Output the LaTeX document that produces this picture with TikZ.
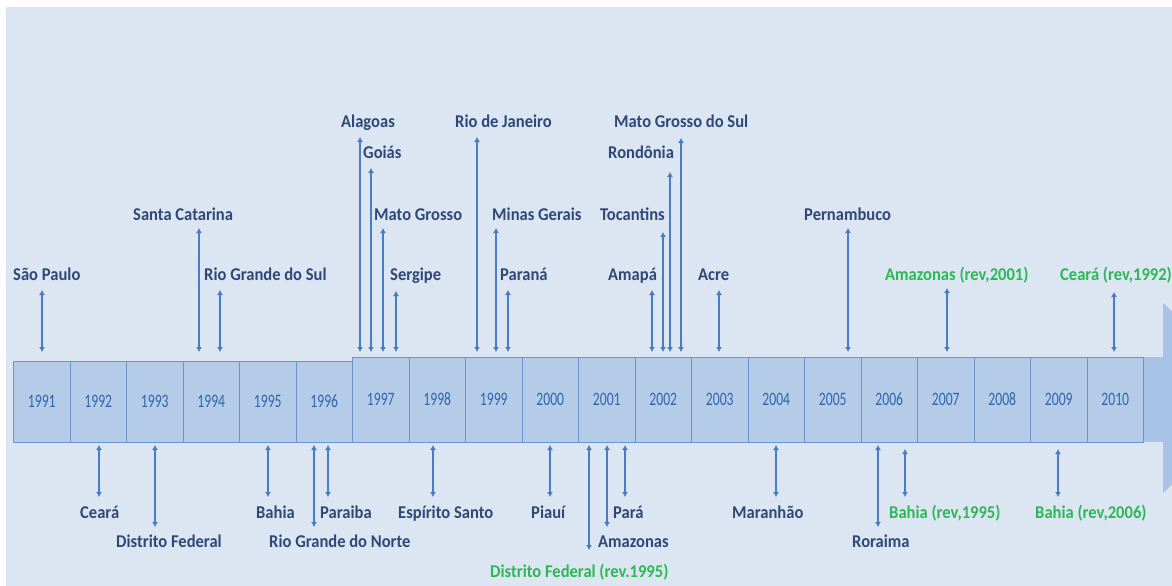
\documentclass[tikz,border=0pt]{standalone}
\usepackage{fontspec}
\setmainfont{Carlito}
\newfontfamily\labfont[FakeStretch=0.92]{Carlito}
\newfontfamily\yearfont[FakeStretch=0.72]{Carlito}
\usetikzlibrary{arrows.meta}

\definecolor{bgblue}{RGB}{220,230,242}
\definecolor{boxfill}{RGB}{180,204,232}
\definecolor{boxedge}{RGB}{108,149,207}
\definecolor{shaftfill}{RGB}{168,195,230}
\definecolor{linkblue}{RGB}{74,125,192}
\definecolor{labtext}{RGB}{46,72,120}
\definecolor{yeartext}{RGB}{48,100,172}
\definecolor{revgreen}{RGB}{44,184,84}

\tikzset{
  lab/.style={inner sep=0pt, text=labtext, font=\labfont\bfseries\fontsize{18}{20}\selectfont},
  labnew/.style={lab, text=revgreen},
  yearbox/.style={draw=boxedge, line width=1pt, fill=boxfill, text=yeartext,
    minimum width=56.5pt, inner sep=0pt, font=\yearfont\fontsize{19}{21}\selectfont},
  link/.style={draw=linkblue, line width=1.5pt,
    {Latex[length=5pt,width=6pt]}-{Latex[length=5pt,width=6pt]}}
}

% one state: label node plus its double-headed marker
% #1 name, #2 label style, #3 marker x, #4/#5 marker ends, #6/#7 label left/baseline, #8 text
\newcommand\statemark[8]{%
  \node[#2, anchor=base west] (#1) at (#6,#7) {#8};
  \coordinate (#1-a) at (#3,#4);
  \coordinate (#1-b) at (#3,#5);
  \draw[link] (#1-a) -- (#1-b);
}

\begin{document}
\begin{tikzpicture}[x=1pt, y=-1pt]
\useasboundingbox (0,0) rectangle (1172,586);
\fill[bgblue] (6,7) rectangle (1172,586);

% timeline arrow: shaft and head, cut at the page edge
\begin{scope}
  \clip (0,0) rectangle (1172,586);
  \fill[shaftfill] (1163,303) -- (1265,398) -- (1163,493) -- cycle;
  \fill[shaftfill] (1140,357) rectangle (1164,442);
\end{scope}

% year boxes
\foreach \i in {0,...,19}{
  \pgfmathtruncatemacro\yr{1991+\i}
  \pgfmathsetmacro\cx{13.5+56.5*\i+28.25}
  \ifnum\i<6
    \node[yearbox, minimum height=81pt] (y\yr) at (\cx,401.5) {\yr};
  \else
    \node[yearbox, minimum height=85pt] (y\yr) at (\cx,399.5) {\yr};
  \fi
}

% states above the line
\statemark{sp}{lab}{42}{290}{352}{13}{280}{São Paulo}
\statemark{sc}{lab}{199}{228}{352}{133}{220}{Santa Catarina}
\statemark{rs}{lab}{220}{290}{352}{204}{280}{Rio Grande do Sul}
\statemark{al}{lab}{360}{137}{352}{341}{127}{Alagoas}
\statemark{go}{lab}{371}{168}{352}{363}{158}{Goiás}
\statemark{mt}{lab}{383}{228}{352}{374}{220}{Mato Grosso}
\statemark{se}{lab}{396}{291}{352}{390}{280}{Sergipe}
\statemark{rj}{lab}{477}{137}{352}{455}{127}{Rio de Janeiro}
\statemark{mg}{lab}{496}{228}{352}{492}{220}{Minas Gerais}
\statemark{pr}{lab}{508}{290}{352}{500}{280}{Paraná}
\statemark{ms}{lab}{681}{138}{352}{614}{127}{Mato Grosso do Sul}
\statemark{ro}{lab}{670}{172}{352}{608}{158}{Rondônia}
\statemark{to}{lab}{663}{232}{352}{600}{220}{Tocantins}
\statemark{ap}{lab}{652}{290}{352}{608}{280}{Amapá}
\statemark{ac}{lab}{719}{290}{352}{698}{280}{Acre}
\statemark{pe}{lab}{848}{228}{352}{804}{220}{Pernambuco}
\statemark{amr}{labnew}{947}{288}{352}{885}{280}{Amazonas (rev,2001)}
\statemark{cer}{labnew}{1114}{292}{352}{1060}{280}{Ceará (rev,1992)}

% states below the line
\statemark{ce}{lab}{99}{445}{497}{80}{518}{Ceará}
\statemark{df}{lab}{155}{445}{527}{116}{547}{Distrito Federal}
\statemark{ba}{lab}{268}{445}{497}{256}{518}{Bahia}
\statemark{rn}{lab}{314}{445}{527}{269}{547}{Rio Grande do Norte}
\statemark{pb}{lab}{328}{445}{497}{320}{518}{Paraiba}
\statemark{es}{lab}{433}{445}{497}{398}{518}{Espírito Santo}
\statemark{pi}{lab}{550}{445}{497}{531}{518}{Piauí}
\statemark{dfr}{labnew}{589}{445}{550}{490}{577}{Distrito Federal (rev.1995)}
\statemark{am}{lab}{607}{445}{527}{598}{547}{Amazonas}
\statemark{pa}{lab}{625}{445}{497}{613}{518}{Pará}
\statemark{ma}{lab}{776}{445}{497}{732}{518}{Maranhão}
\statemark{rr}{lab}{878}{445}{527}{852}{547}{Roraima}
\statemark{bar}{labnew}{905}{449}{497}{889}{518}{Bahia (rev,1995)}
\statemark{bbr}{labnew}{1058}{449}{497}{1035}{518}{Bahia (rev,2006)}
\end{tikzpicture}
\end{document}
